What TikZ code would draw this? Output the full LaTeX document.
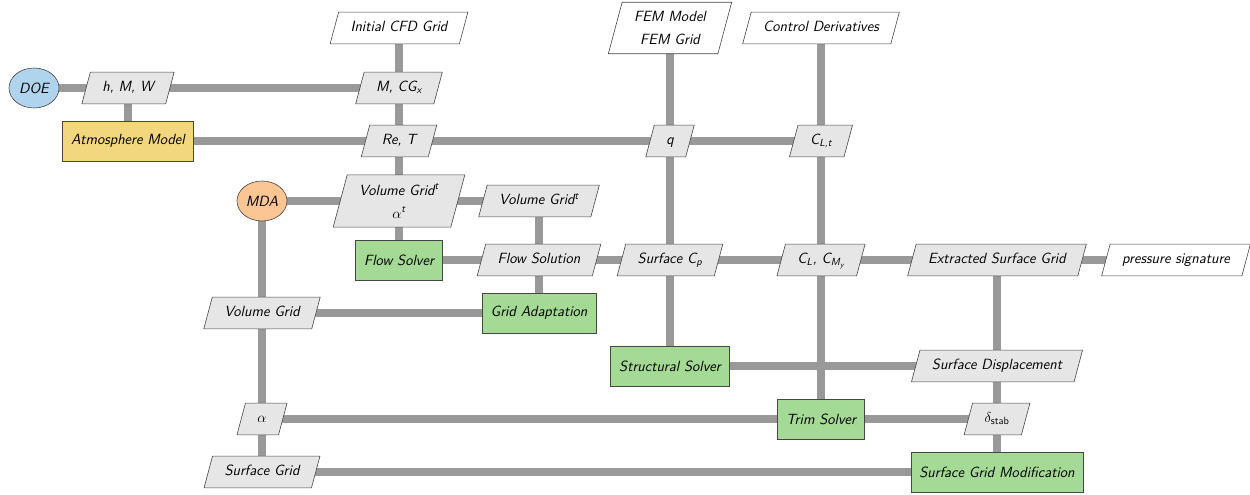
\documentclass[tikz,border=0pt]{standalone}
\usepackage{fontspec}
\usepackage{amsmath}
\usetikzlibrary{shapes.geometric,backgrounds}
\definecolor{linegray}{RGB}{153,153,153}
\definecolor{datafill}{RGB}{230,230,230}
\definecolor{edgegray}{RGB}{70,70,70}
\definecolor{doeblue}{RGB}{176,212,237}
\definecolor{atmyellow}{RGB}{243,215,126}
\definecolor{mdaorange}{RGB}{251,198,148}
\definecolor{fungreen}{RGB}{165,218,150}
\tikzset{
  every node/.style={font=\fontsize{14.8}{23}\selectfont\sffamily\itshape},
  databox/.style={trapezium, trapezium left angle=75, trapezium right angle=105,
    draw=edgegray, line width=0.6pt, fill=datafill, inner xsep=12pt, inner ysep=9pt, align=center},
  dataone/.style={databox, text height=10.4pt, text depth=3.4pt},
  iobox/.style={dataone, fill=white},
  iotwo/.style={databox, fill=white},
  funbox/.style={rectangle, draw=edgegray, line width=0.6pt, fill=fungreen, inner xsep=8.5pt, minimum height=40pt},
  drvbox/.style={ellipse, draw=edgegray, line width=0.6pt, minimum width=50pt, minimum height=40pt, inner sep=0pt},
  conn/.style={draw=linegray, line width=7.5pt}
}
\begin{document}
\begin{tikzpicture}[x=1pt,y=-1pt]
\useasboundingbox (0,0) rectangle (1250,495);
% drivers and functions
\node[drvbox, fill=doeblue] (doe) at (34,88) {DOE};
\node[funbox, fill=atmyellow] (atm) at (128,141) {Atmosphere Model};
\node[drvbox, fill=mdaorange] (mda) at (262,201) {MDA};
\node[funbox] (flow) at (399,260) {Flow Solver};
\node[funbox] (gad) at (539,313) {Grid Adaptation};
\node[funbox] (ss) at (670,366) {Structural Solver};
\node[funbox] (trim) at (821,419) {Trim Solver};
\node[funbox] (sgm) at (997,472) {Surface Grid Modification};
% inputs / outputs
\node[iobox] (cfd) at (399,28) {Initial CFD Grid};
\node[iotwo] (fem) at (670,28) {FEM Model\\FEM Grid};
\node[iobox] (ctrl) at (821,28) {Control Derivatives};
\node[iobox] (ps) at (1176,260) {pressure signature};
% data
\node[dataone] (hmw) at (128,88) {h, M, W};
\node[dataone] (mcg) at (399,88) {M, CG\textsubscript{x}};
\node[dataone] (ret) at (399,141) {Re, T};
\node[dataone] (q) at (670,141) {q};
\node[dataone] (clt) at (821,141) {C\textsubscript{L,t}};
\node[databox] (vgt) at (399,201) {Volume Grid\textsuperscript{t}\\$\alpha^{\text{t}}$};
\node[dataone] (vgt2) at (539,201) {Volume Grid\textsuperscript{t}};
\node[dataone] (fsol) at (539,260) {Flow Solution};
\node[dataone] (scp) at (670,260) {Surface C\textsubscript{p}};
\node[dataone] (clcm) at (821,260) {C\textsubscript{L}, C\textsubscript{M\textsubscript{y}}};
\node[dataone] (esg) at (997,260) {Extracted Surface Grid};
\node[dataone] (vg) at (262,313) {Volume Grid};
\node[dataone] (sd) at (997,366) {Surface Displacement};
\node[dataone] (alpha) at (262,419) {$\alpha$};
\node[dataone] (dst) at (997,419) {$\delta_{\text{\upshape stab}}$};
\node[dataone] (sg) at (262,472) {Surface Grid};
% connectors
\begin{scope}[on background layer]
\draw[conn] (doe.center) -- (hmw.center) -- (mcg.center);
\draw[conn] (hmw.center) -- (atm.center);
\draw[conn] (atm.center) -- (ret.center) -- (q.center) -- (clt.center);
\draw[conn] (cfd.center) -- (mcg.center) -- (ret.center) -- (vgt.center) -- (flow.center);
\draw[conn] (mda.center) -- (vgt.center) -- (vgt2.center);
\draw[conn] (vgt2.center) -- (fsol.center) -- (gad.center);
\draw[conn] (mda.center) -- (vg.center) -- (alpha.center) -- (sg.center);
\draw[conn] (flow.center) -- (fsol.center) -- (scp.center) -- (clcm.center) -- (esg.center) -- (ps.center);
\draw[conn] (vg.center) -- (gad.center);
\draw[conn] (fem.center) -- (q.center) -- (scp.center) -- (ss.center);
\draw[conn] (ctrl.center) -- (clt.center) -- (clcm.center) -- (trim.center);
\draw[conn] (esg.center) -- (sd.center) -- (dst.center) -- (sgm.center);
\draw[conn] (ss.center) -- (sd.center);
\draw[conn] (alpha.center) -- (trim.center) -- (dst.center);
\draw[conn] (sg.center) -- (sgm.center);
\end{scope}
\end{tikzpicture}
\end{document}
